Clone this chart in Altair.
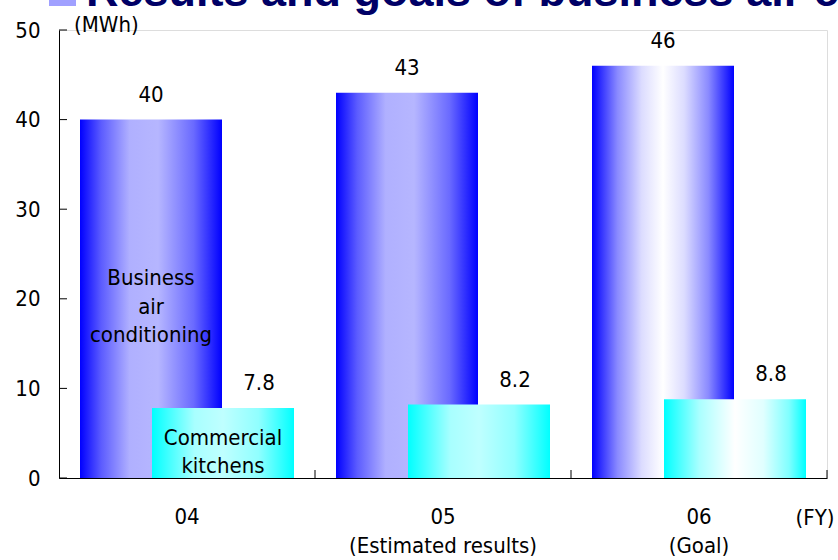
import altair as alt
import pandas as pd

# ---- data ----
years = ["04", "05", "06"]
year_notes = ["", "(Estimated results)", "(Goal)"]
air_conditioning = [40, 43, 46]
kitchens = [7.8, 8.2, 8.8]
series_names = ["Business\nair\nconditioning", "Commercial\nkitchens"]
y_ticks = [0, 10, 20, 30, 40, 50]
title_text = "Results and goals of business air conditioning"

cats = [y if n == "" else f"{y}|{n}" for y, n in zip(years, year_notes)]
df = pd.DataFrame({"cat": cats, "ac": air_conditioning, "kit": kitchens})

FONT = "Liberation Sans Narrow, Arial Narrow, DejaVu Sans Condensed, sans-serif"
FS = 22
W, H = 768, 448

yscale = alt.Scale(domain=[0, 50], nice=False)
yaxis = alt.Axis(
    title=None, ticks=False, grid=False, values=y_ticks, labelFont=FONT,
    labelFontSize=FS, labelColor="black", labelPadding=19, domainColor="black",
)
xenc = alt.X(
    "cat:N",
    sort=cats,
    scale=alt.Scale(paddingInner=0, paddingOuter=0),
    axis=alt.Axis(
        title=None, ticks=False, labelAngle=0, labelExpr="split(datum.label, '|')",
        labelFont=FONT, labelFontSize=FS, labelColor="black", labelPadding=28,
        labelLineHeight=29, domainColor="black", labelBaseline="top", labelLimit=0,
    ),
)


def grad(stops):
    return alt.Gradient(
        gradient="linear", x1=0, x2=1, y1=0, y2=0,
        stops=[alt.GradientStop(color=c, offset=o) for o, c in stops],
    )


blue_soft = [(0, "#0000ff"), (0.15, "#5c5cff"), (0.35, "#b0b0ff"), (0.55, "#b6b6ff"),
             (0.8, "#6a6aff"), (1, "#0000ff")]
blue_white = [(0, "#0000ff"), (0.18, "#8a8aff"), (0.35, "#dcdcff"), (0.5, "#ffffff"),
              (0.65, "#dcdcff"), (0.82, "#8a8aff"), (1, "#0000ff")]
cyan_soft = [(0, "#00ffff"), (0.3, "#a8ffff"), (0.5, "#bfffff"), (0.75, "#90ffff"), (1, "#00ffff")]
cyan_white = [(0, "#00ffff"), (0.25, "#aaffff"), (0.5, "#ffffff"), (0.7, "#e0ffff"),
              (0.88, "#80ffff"), (1, "#00ffff")]
blue_styles = [blue_soft, blue_soft, blue_white]
cyan_styles = [cyan_soft, cyan_soft, cyan_white]

base = alt.Chart(df)
layers = []
for c, bs in zip(cats, blue_styles):
    layers.append(
        base.transform_filter(alt.datum.cat == c)
        .mark_bar(width=142, xOffset=-36, color=grad(bs))
        .encode(x=xenc, y=alt.Y("ac:Q", scale=yscale, axis=yaxis))
    )
for c, cs in zip(cats, cyan_styles):
    layers.append(
        base.transform_filter(alt.datum.cat == c)
        .mark_bar(width=142, xOffset=36, color=grad(cs))
        .encode(x=xenc, y=alt.Y("kit:Q", scale=yscale, axis=yaxis))
    )

# value labels
layers.append(
    base.mark_text(font=FONT, fontSize=FS, color="black", xOffset=-36, dy=-18,
                   baseline="alphabetic")
    .encode(x=xenc, y=alt.Y("ac:Q", scale=yscale, axis=yaxis), text=alt.Text("ac:Q"))
)
layers.append(
    base.mark_text(font=FONT, fontSize=FS, color="black", xOffset=72, dy=-18,
                   baseline="alphabetic")
    .encode(x=xenc, y=alt.Y("kit:Q", scale=yscale, axis=yaxis),
            text=alt.Text("kit:Q", format=".1f"))
)

# series names inside the first pair of bars
layers.append(
    alt.Chart(pd.DataFrame({"cat": [cats[0]], "name": [series_names[0]]}))
    .mark_text(font=FONT, fontSize=FS, color="black", xOffset=-36, lineBreak="\n",
               lineHeight=28.5, baseline="alphabetic")
    .encode(x=xenc, y=alt.value(255), text="name:N")
)
layers.append(
    alt.Chart(pd.DataFrame({"cat": [cats[0]], "name": [series_names[1]]}))
    .mark_text(font=FONT, fontSize=FS, color="black", xOffset=36, lineBreak="\n",
               lineHeight=28, baseline="alphabetic")
    .encode(x=xenc, y=alt.value(415), text="name:N")
)

# inward y ticks as rules
ydf = pd.DataFrame({"v": y_ticks})
layers.append(
    alt.Chart(ydf).mark_rule(color="black", strokeWidth=1)
    .encode(y=alt.Y("v:Q", scale=yscale, axis=yaxis), x=alt.value(0), x2=alt.value(8))
)
# x axis inward ticks at band edges
layers.append(
    base.mark_rule(color="black", strokeWidth=1, xOffset=W / 6)
    .encode(x=xenc, y=alt.value(H - 8), y2=alt.value(H))
)

# annotations
layers.append(alt.Chart(pd.DataFrame({"t": ["(MWh)"]}))
              .mark_text(font=FONT, fontSize=FS, color="black", align="left",
                         baseline="alphabetic")
              .encode(x=alt.value(15), y=alt.value(2), text="t:N"))
layers.append(alt.Chart(pd.DataFrame({"t": ["(FY)"]}))
              .mark_text(font=FONT, fontSize=FS, color="black", align="center",
                         baseline="alphabetic")
              .encode(x=alt.value(756), y=alt.value(495), text="t:N"))
layers.append(alt.Chart(pd.DataFrame({"t": [title_text]}))
              .mark_text(font="Liberation Sans, Arial, sans-serif", fontSize=45,
                         fontWeight="bold", color="#000066", align="left",
                         baseline="alphabetic")
              .encode(x=alt.value(27), y=alt.value(-24), text="t:N"))
layers.append(alt.Chart(pd.DataFrame({"t": [""]}))
              .mark_rect(color="#a0a0ff")
              .encode(x=alt.value(-10), x2=alt.value(17), y=alt.value(-40), y2=alt.value(-24)))

chart = (
    alt.layer(*layers)
    .properties(
        width=W, height=H,
        autosize=alt.AutoSizeParams(type="none"),
        padding={"left": 59, "top": 30, "right": 11, "bottom": 82},
    )
    .configure_view(stroke=None)
    .configure(background="white")
)

chart.save("out.html", embed_options={"renderer": "svg", "actions": False})
